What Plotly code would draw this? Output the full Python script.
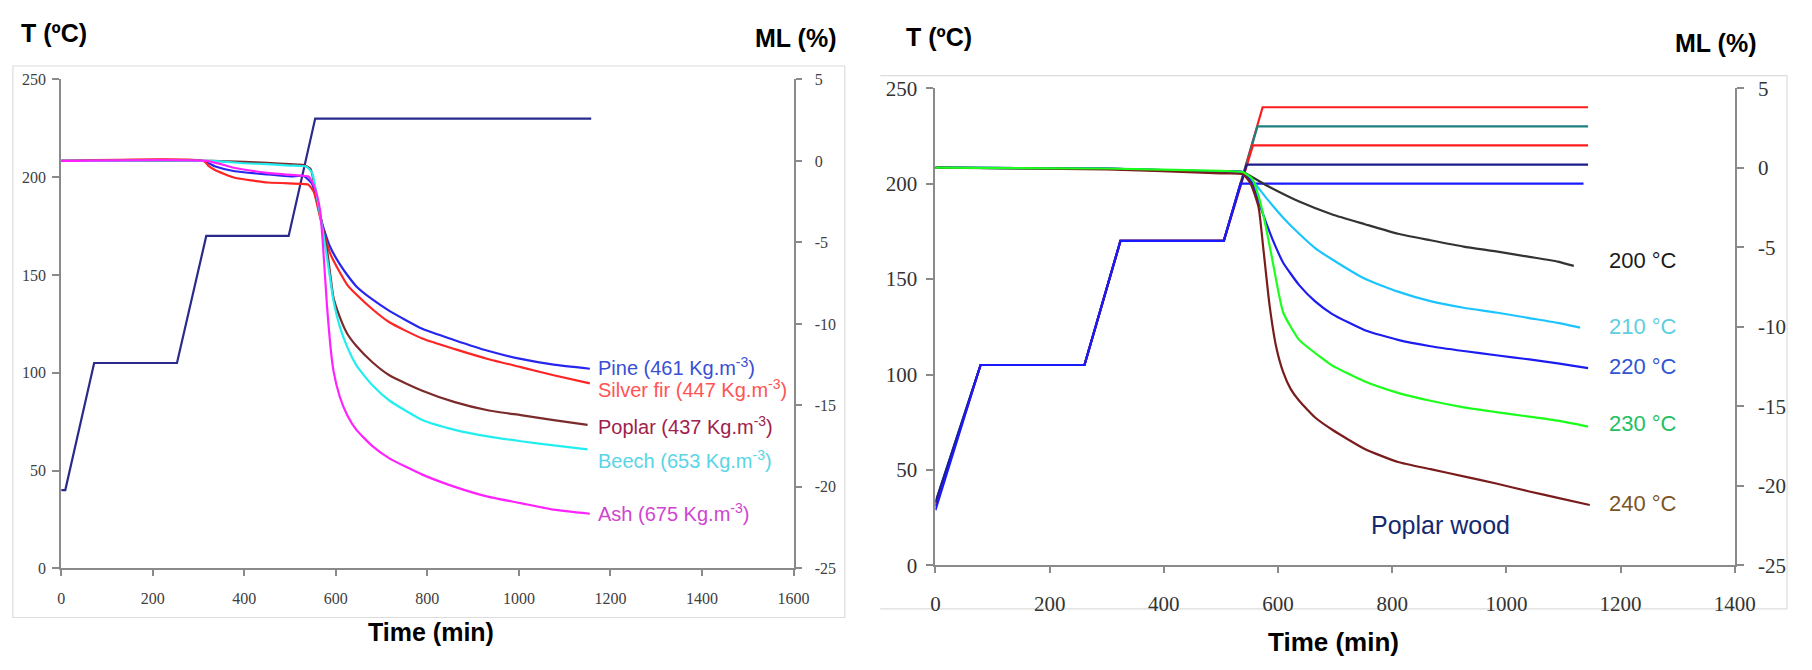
import plotly.graph_objects as go

W, H = 1812, 670


def px(x, y):
    return x / W, 1 - y / H


# ---------------- Left panel: wood species ----------------
left_temp_t = [0, 9, 72, 253, 317, 497, 555, 1158]
left_temp_T = [40, 40, 105, 105, 170, 170, 230, 230]

pine_t = [0, 310, 337, 379, 452, 502, 530, 548, 559, 566, 573, 588, 609, 625, 645, 680, 717, 789, 860, 932, 1004, 1076, 1155]
pine_ml = [0, 0, -0.34, -0.63, -0.83, -0.95, -0.92, -1.4, -2.5, -3.4, -4.1, -5.3, -6.35, -7.0, -7.7, -8.5, -9.2, -10.3, -11.0, -11.65, -12.15, -12.5, -12.75]

fir_t = [0, 312, 322, 336, 379, 452, 523, 540, 552, 566, 573, 588, 609, 625, 645, 680, 717, 789, 860, 932, 1004, 1076, 1155]
fir_ml = [0, 0, -0.3, -0.55, -1.03, -1.32, -1.4, -1.45, -1.9, -3.5, -4.3, -5.7, -6.85, -7.6, -8.2, -9.1, -9.9, -10.9, -11.55, -12.15, -12.65, -13.15, -13.65]

poplar_t = [0, 330, 400, 450, 500, 530, 545, 552, 559, 566, 573, 581, 588, 595, 609, 625, 645, 680, 717, 789, 860, 932, 1004, 1076, 1150]
poplar_ml = [0, 0, -0.05, -0.12, -0.2, -0.25, -0.5, -1.3, -2.3, -3.3, -4.3, -5.5, -7.0, -8.4, -9.6, -10.6, -11.35, -12.35, -13.15, -14.1, -14.8, -15.3, -15.6, -15.9, -16.2]

beech_t = [0, 330, 400, 450, 500, 535, 548, 555, 562, 570, 580, 588, 595, 609, 624, 645, 681, 717, 789, 860, 932, 1004, 1076, 1150]
beech_ml = [0, 0, -0.14, -0.2, -0.28, -0.34, -0.7, -1.6, -2.7, -4.0, -5.8, -7.3, -8.6, -10.2, -11.35, -12.55, -13.8, -14.7, -15.9, -16.5, -16.9, -17.2, -17.45, -17.7]

ash_t = [0, 318, 380, 450, 523, 540, 552, 559, 566, 573, 581, 588, 595, 609, 625, 645, 680, 717, 789, 860, 932, 1004, 1076, 1155]
ash_ml = [0, 0, -0.43, -0.73, -0.9, -0.95, -1.5, -2.1, -3.1, -5.6, -9.0, -11.3, -12.9, -14.5, -15.6, -16.5, -17.5, -18.25, -19.25, -20.0, -20.6, -21.0, -21.4, -21.65]

left_labels = [
    "Pine (461 Kg.m<sup>-3</sup>)",
    "Silver fir (447 Kg.m<sup>-3</sup>)",
    "Poplar (437 Kg.m<sup>-3</sup>)",
    "Beech (653 Kg.m<sup>-3</sup>)",
    "Ash (675 Kg.m<sup>-3</sup>)",
]

# ---------------- Right panel: poplar at 5 temperatures ----------------
r200_temp_t = [0, 79, 261, 324, 505, 534, 1135]
r200_temp_T = [29, 105, 105, 170, 170, 200, 200]
r210_temp_t = [0, 79, 261, 324, 505, 545, 1143]
r210_temp_T = [33, 105, 105, 170, 170, 210, 210]
r220_temp_t = [0, 79, 261, 324, 505, 556, 1143]
r220_temp_T = [31, 105, 105, 170, 170, 220, 220]
r230_temp_t = [0, 79, 261, 324, 505, 564, 1143]
r230_temp_T = [33, 105, 105, 170, 170, 230, 230]
r240_temp_t = [0, 79, 261, 324, 505, 573, 1143]
r240_temp_T = [31, 105, 105, 170, 170, 240, 240]

r200_t = [0, 300, 500, 538, 580, 637, 695, 752, 810, 867, 925, 982, 1040, 1090, 1118]
r200_ml = [0, -0.05, -0.25, -0.27, -1.12, -2.13, -2.94, -3.55, -4.15, -4.56, -4.96, -5.26, -5.6, -5.9, -6.17]

r210_t = [0, 300, 500, 538, 555, 580, 609, 637, 665, 695, 752, 810, 867, 925, 982, 1040, 1090, 1129]
r210_ml = [0, -0.05, -0.25, -0.27, -0.8, -1.93, -3.14, -4.15, -5.05, -5.77, -6.98, -7.79, -8.39, -8.8, -9.1, -9.45, -9.75, -10.05]

r220_t = [0, 300, 500, 538, 555, 568, 580, 595, 609, 637, 665, 695, 752, 810, 867, 925, 982, 1040, 1090, 1143]
r220_ml = [0, -0.05, -0.25, -0.27, -1.0, -2.33, -3.55, -4.9, -5.97, -7.38, -8.4, -9.2, -10.21, -10.82, -11.22, -11.52, -11.79, -12.05, -12.3, -12.6]

r230_t = [0, 300, 500, 538, 555, 566, 574, 580, 591, 609, 637, 678, 695, 752, 810, 867, 925, 982, 1040, 1090, 1143]
r230_ml = [0, -0.05, -0.2, -0.27, -0.7, -1.8, -2.94, -3.95, -5.97, -9.1, -10.82, -12.0, -12.44, -13.44, -14.15, -14.65, -15.06, -15.36, -15.65, -15.9, -16.27]

r240_t = [0, 300, 500, 538, 552, 566, 574, 585, 597, 609, 622, 637, 665, 695, 752, 810, 867, 925, 982, 1040, 1090, 1146]
r240_ml = [0, -0.1, -0.35, -0.4, -1.0, -2.5, -5.0, -8.6, -11.3, -12.85, -13.9, -14.65, -15.7, -16.47, -17.68, -18.5, -18.95, -19.4, -19.85, -20.35, -20.75, -21.2]

right_labels = ["200 °C", "210 °C", "220 °C", "230 °C", "240 °C"]

# tick labels
temp_ticks = [0, 50, 100, 150, 200, 250]
ml_ticks = [-25, -20, -15, -10, -5, 0, 5]
ml_ticktext = ["-25", "-20", "-15", "-10", "-5", "0", "5"]
left_time_ticks = [0, 200, 400, 600, 800, 1000, 1200, 1400, 1600]
right_time_ticks = [0, 200, 400, 600, 800, 1000, 1200, 1400]

fig = go.Figure()

LW = 2.2
fig.add_trace(go.Scatter(x=left_temp_t, y=left_temp_T, mode="lines", line=dict(color="#2a2a8c", width=LW),
                         xaxis="x", yaxis="y", showlegend=False))
left_series = [
    (pine_t, pine_ml, "#2626f0"),
    (fir_t, fir_ml, "#ff2424"),
    (poplar_t, poplar_ml, "#7b2b2b"),
    (beech_t, beech_ml, "#22eef0"),
    (ash_t, ash_ml, "#ff22ff"),
]
for t, m, c in left_series:
    fig.add_trace(go.Scatter(x=t, y=m, mode="lines", line=dict(color=c, width=LW, shape="spline", smoothing=0.5),
                             xaxis="x", yaxis="y2", showlegend=False))

right_temps = [
    (r240_temp_t, r240_temp_T, "#ff1c1c"),
    (r230_temp_t, r230_temp_T, "#1c8080"),
    (r220_temp_t, r220_temp_T, "#ff1c1c"),
    (r210_temp_t, r210_temp_T, "#1c1c8a"),
    (r200_temp_t, r200_temp_T, "#1a1aff"),
]
for t, T, c in right_temps:
    fig.add_trace(go.Scatter(x=t, y=T, mode="lines", line=dict(color=c, width=LW),
                             xaxis="x2", yaxis="y3", showlegend=False))
right_ml = [
    (r200_t, r200_ml, "#333333"),
    (r210_t, r210_ml, "#1cc4ff"),
    (r220_t, r220_ml, "#1c1cf0"),
    (r240_t, r240_ml, "#7a1c1c"),
    (r230_t, r230_ml, "#1cff1c"),
]
for t, m, c in right_ml:
    fig.add_trace(go.Scatter(x=t, y=m, mode="lines", line=dict(color=c, width=LW, shape="spline", smoothing=0.5),
                             xaxis="x2", yaxis="y4", showlegend=False))

AX = "#8a8a8a"
serif = "Liberation Serif"
sans = "Liberation Sans"


def base_axis(**kw):
    d = dict(showline=True, linecolor=AX, linewidth=2, ticks="outside", tickcolor=AX, tickwidth=1.5,
             showgrid=False, zeroline=False, fixedrange=True)
    d.update(kw)
    return d


lfont = dict(family=serif, size=16, color="#404040")
rfont = dict(family=serif, size=21, color="#333333")

fig.update_layout(
    width=W, height=H, margin=dict(l=0, r=0, t=0, b=0),
    paper_bgcolor="white", plot_bgcolor="white",
    font=dict(family=serif, color="#333333"),
    xaxis=base_axis(domain=[57 / W, 800 / W], range=[0, 1600], tickmode="array", tickvals=left_time_ticks,
                    ticktext=[str(v) for v in left_time_ticks], anchor="y", ticklen=6,
                    tickfont=lfont, ticklabelstandoff=8),
    yaxis=base_axis(domain=[1 - 577 / H, 1 - 70 / H], range=[0, 250], tickmode="array", tickvals=temp_ticks,
                    ticktext=[str(v) for v in temp_ticks], anchor="x", ticklen=7,
                    tickfont=lfont, ticklabelstandoff=3),
    yaxis2=base_axis(overlaying="y", side="right", anchor="x", range=[-25, 5], tickmode="array", tickvals=ml_ticks,
                     ticktext=ml_ticktext, ticklen=6, tickfont=lfont, ticklabelstandoff=10),
    yaxis5=base_axis(overlaying="y", side="right", anchor="x", range=[-25, 5], tickmode="array", tickvals=ml_ticks,
                     ticklen=6, ticks="inside", showticklabels=False, showline=False),
    xaxis2=base_axis(domain=[944 / W, 1755 / W], range=[0, 1400], tickmode="array", tickvals=right_time_ticks,
                     ticktext=[str(v) for v in right_time_ticks], anchor="y3",
                     ticklen=6, tickfont=rfont, ticklabelstandoff=12),
    yaxis3=base_axis(domain=[1 - 574 / H, 1 - 79 / H], range=[0, 250], tickmode="array", tickvals=temp_ticks,
                     ticktext=[str(v) for v in temp_ticks], anchor="x2",
                     ticklen=7, tickfont=rfont, ticklabelstandoff=5),
    yaxis4=base_axis(overlaying="y3", side="right", anchor="x2", range=[-25, 5], tickmode="array", tickvals=ml_ticks,
                     ticktext=ml_ticktext, ticklen=7, tickfont=rfont, ticklabelstandoff=10),
    yaxis6=base_axis(overlaying="y3", side="right", anchor="x2", range=[-25, 5], tickmode="array", tickvals=ml_ticks,
                     ticklen=7, ticks="inside", showticklabels=False, showline=False),
)

FR = "#dcdcdc"
shapes = []
x0, y0 = px(8, 56)
x1, y1 = px(852, 628)
shapes.append(dict(type="rect", xref="paper", yref="paper", x0=x0, y0=y1, x1=x1, y1=y0,
                   line=dict(color=FR, width=1.2), layer="below"))
for (ax0, ay0, ax1, ay1) in [(888, 66, 1808, 66), (888, 619, 1808, 619), (1808, 66, 1808, 619)]:
    a, b = px(ax0, ay0)
    c, d = px(ax1, ay1)
    shapes.append(dict(type="line", xref="paper", yref="paper", x0=a, y0=b, x1=c, y1=d,
                       line=dict(color=FR, width=1.2), layer="below"))
fig.update_layout(shapes=shapes)

ann = []


def add_text(text, x, y, size, color, bold=False, xanchor="left", family=sans):
    xx, yy = px(x, y)
    ann.append(dict(text=f"<b>{text}</b>" if bold else text, x=xx, y=yy, xref="paper", yref="paper",
                    xanchor=xanchor, yanchor="middle", showarrow=False,
                    font=dict(family=family, size=size, color=color)))


add_text("T (ºC)", 14, 22, 25, "#000000", bold=True)
add_text("ML (%)", 759, 27, 25, "#000000", bold=True)
add_text("Time (min)", 432, 643, 25, "#000000", bold=True, xanchor="center")
add_text("T (ºC)", 912, 26, 25, "#000000", bold=True)
add_text("ML (%)", 1692, 32, 25, "#000000", bold=True)
add_text("Time (min)", 1348, 653, 26, "#000000", bold=True, xanchor="center")

left_label_colors = ["#3a4fd4", "#ff5454", "#a0214c", "#5ad4e6", "#d045d0"]
left_label_y = [368, 391, 429, 464, 519]
for txt, c, yy in zip(left_labels, left_label_colors, left_label_y):
    add_text(txt, 600, yy, 20, c)

right_label_colors = ["#1a1a1a", "#5ccfe0", "#2f55d4", "#22c060", "#7b5526"]
right_label_y = [258, 326, 368, 427, 510]
for txt, c, yy in zip(right_labels, right_label_colors, right_label_y):
    add_text(txt, 1625, yy, 22, c)
add_text("Poplar wood", 1384, 532, 25, "#15286e")

fig.update_layout(annotations=ann)

fig.write_html("out.html")
